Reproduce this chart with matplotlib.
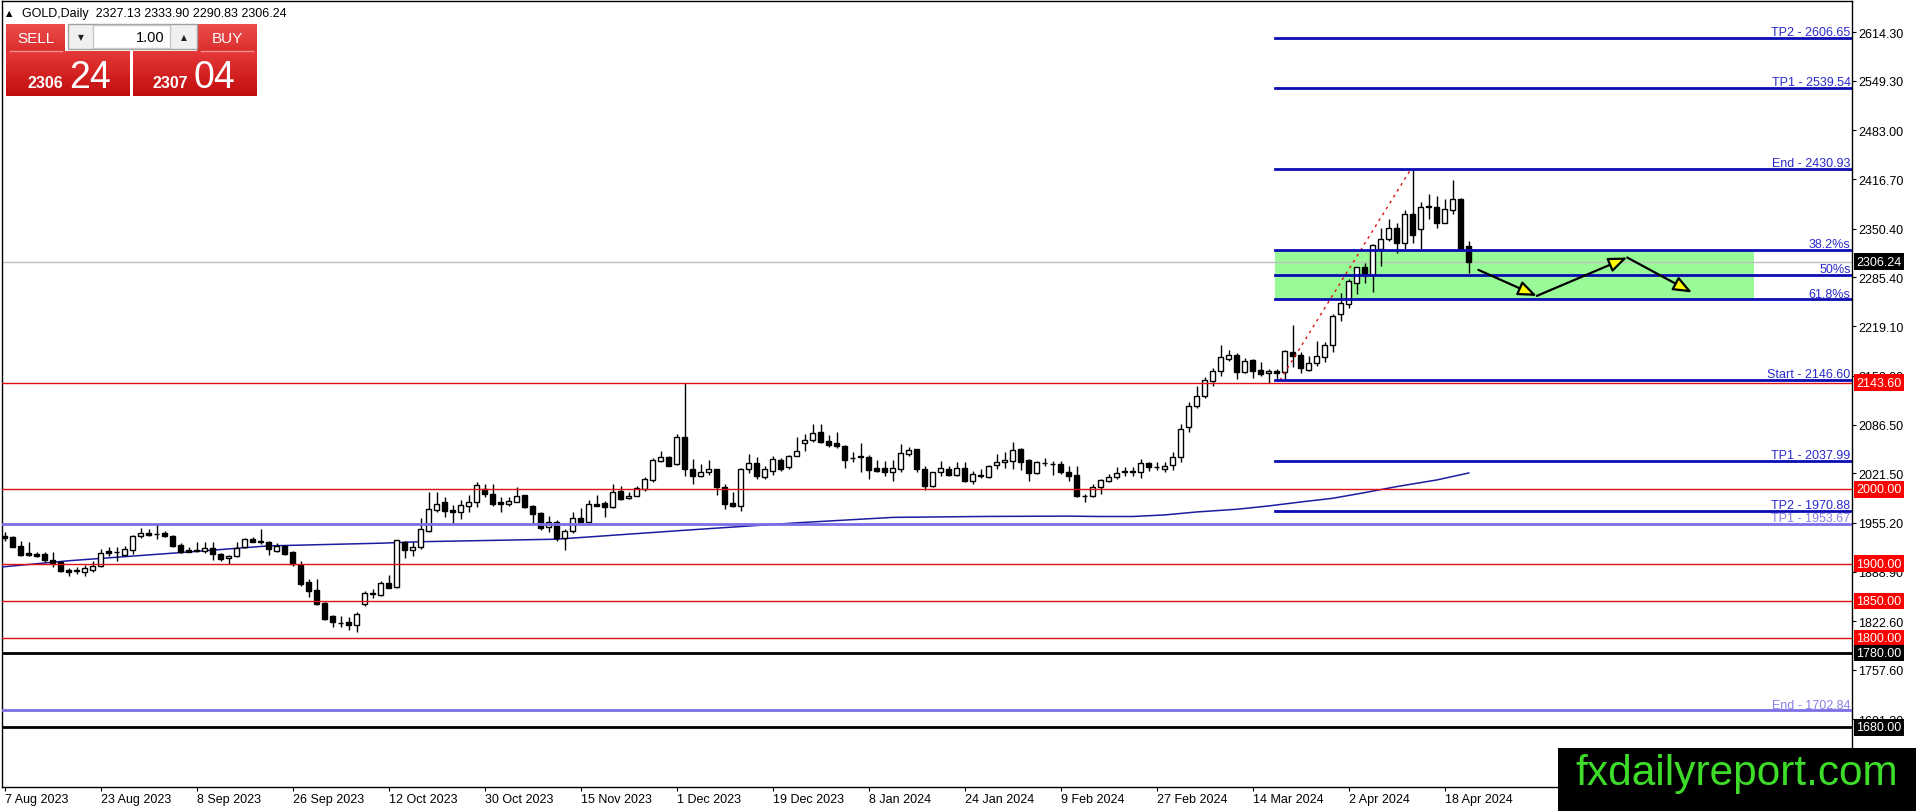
import numpy as np
import matplotlib
matplotlib.use("Agg")
import matplotlib.pyplot as plt
import matplotlib.transforms as mtransforms
from matplotlib.patches import Rectangle, FancyArrowPatch

plt.rcParams['font.family'] = ['Liberation Sans', 'DejaVu Sans']

# GOLD daily candles, 7 Aug 2023 .. 23 Apr 2024
opens = [
    1936.7, 1936.3, 1923.3, 1913.9, 1913.0, 1913.0, 1905.4, 1902.7, 1892.0, 1891.0,
    1888.4, 1892.0, 1896.4, 1916.6, 1916.1, 1912.1, 1918.8, 1936.7, 1941.2, 1940.0,
    1940.8, 1936.7, 1925.6, 1918.8, 1917.9, 1917.5, 1920.6, 1913.0, 1907.2, 1909.9,
    1922.0, 1933.2, 1930.0, 1929.6, 1917.5, 1924.2, 1915.3, 1898.7, 1875.8, 1865.1,
    1847.2, 1829.3, 1820.8, 1821.2, 1818.1, 1845.8, 1859.8, 1858.4, 1873.6, 1868.2,
    1929.6, 1918.8, 1921.9, 1944.3, 1972.5, 1983.3, 1972.1, 1968.9, 1977.9, 1983.3,
    2000.3, 1993.6, 1983.3, 1980.1, 1983.3, 1992.2, 1977.9, 1968.0, 1948.8, 1956.4,
    1934.0, 1944.3, 1960.9, 1956.4, 1980.1, 1981.0, 1975.7, 1997.6, 1987.8, 1991.3,
    2000.3, 2012.8, 2038.4, 2042.8, 2033.9, 2069.7, 2028.0, 2018.2, 2023.6, 2027.2,
    2002.5, 1981.5, 1977.9, 2027.2, 2034.8, 2016.0, 2024.9, 2039.7, 2029.4, 2045.1,
    2062.2, 2066.6, 2076.5, 2065.3, 2062.2, 2057.7, 2041.9, 2043.5, 2043.8, 2028.6,
    2028.1, 2023.6, 2027.2, 2047.4, 2054.1, 2027.2, 2004.8, 2022.8, 2027.2, 2019.2,
    2028.1, 2011.6, 2019.2, 2016.0, 2032.6, 2036.2, 2038.4, 2054.1, 2039.8, 2021.9,
    2035.6, 2034.2, 2033.9, 2023.6, 2019.2, 1990.9, 1990.5, 2002.6, 2010.7, 2016.0,
    2023.3, 2023.9, 2022.8, 2034.8, 2029.9, 2027.2, 2033.1, 2042.9, 2083.2, 2112.3,
    2125.8, 2145.9, 2158.5, 2175.0, 2180.4, 2157.1, 2173.7, 2160.2, 2156.2, 2159.3,
    2157.1, 2184.9, 2180.4, 2160.7, 2169.6, 2177.3, 2193.8, 2235.5, 2248.9, 2278.0,
    2298.2, 2287.9, 2322.8, 2337.1, 2351.9, 2331.7, 2369.8, 2349.7, 2380.5, 2380.1,
    2358.6, 2375.6, 2390.9, 2327.13,
]
highs = [
    1942.1, 1937.6, 1930.9, 1929.6, 1916.1, 1916.1, 1915.3, 1904.1, 1894.2, 1895.1,
    1898.7, 1904.1, 1919.7, 1922.0, 1922.0, 1924.2, 1938.5, 1947.5, 1946.6, 1953.3,
    1944.4, 1938.5, 1927.8, 1922.0, 1929.6, 1929.6, 1928.7, 1914.4, 1911.7, 1929.6,
    1934.1, 1935.4, 1946.6, 1930.9, 1927.8, 1925.6, 1917.5, 1904.1, 1879.4, 1879.4,
    1848.0, 1831.5, 1830.2, 1827.9, 1834.6, 1863.8, 1866.0, 1877.2, 1884.8, 1932.5,
    1930.9, 1929.6, 1960.9, 1995.8, 1995.8, 1989.1, 1978.8, 1985.5, 1992.2, 2009.3,
    2007.0, 2007.0, 1989.1, 1989.1, 2002.5, 1993.0, 1978.5, 1968.9, 1963.6, 1959.1,
    1946.5, 1968.9, 1974.3, 1986.0, 1992.2, 1984.6, 2007.0, 2004.8, 1996.7, 2003.9,
    2016.0, 2041.5, 2051.8, 2045.1, 2074.2, 2143.6, 2040.6, 2033.9, 2039.7, 2028.0,
    2007.0, 1995.8, 2028.5, 2047.3, 2042.8, 2031.6, 2044.2, 2041.5, 2046.0, 2069.7,
    2074.2, 2087.7, 2087.7, 2072.9, 2077.4, 2059.5, 2049.6, 2062.2, 2046.0, 2039.8,
    2038.4, 2039.8, 2060.8, 2056.3, 2054.5, 2031.7, 2023.3, 2038.4, 2031.7, 2036.2,
    2036.2, 2025.0, 2027.2, 2032.6, 2047.4, 2049.6, 2063.9, 2055.0, 2040.7, 2038.4,
    2041.6, 2038.4, 2038.4, 2031.7, 2031.7, 1993.6, 2007.1, 2013.8, 2020.5, 2029.5,
    2029.5, 2029.5, 2040.7, 2037.1, 2037.1, 2037.1, 2050.5, 2087.7, 2117.7, 2139.2,
    2150.4, 2162.5, 2193.8, 2187.5, 2183.1, 2175.9, 2175.0, 2170.5, 2161.6, 2161.6,
    2187.0, 2221.1, 2184.0, 2179.5, 2199.6, 2197.4, 2235.5, 2263.7, 2282.5, 2299.5,
    2304.0, 2329.5, 2351.9, 2363.1, 2357.7, 2375.6, 2430.93, 2386.4, 2396.7, 2394.4,
    2390.9, 2415.9, 2391.5, 2333.90,
]
lows = [
    1930.9, 1922.0, 1910.8, 1910.8, 1908.5, 1901.8, 1895.1, 1889.3, 1883.9, 1886.1,
    1883.0, 1888.4, 1895.1, 1910.8, 1904.1, 1911.7, 1913.0, 1934.5, 1937.6, 1933.2,
    1935.4, 1922.9, 1913.9, 1915.3, 1915.3, 1914.4, 1905.4, 1904.1, 1899.6, 1908.5,
    1921.1, 1928.7, 1926.5, 1911.7, 1916.1, 1912.1, 1897.3, 1870.5, 1855.7, 1844.5,
    1824.8, 1814.5, 1815.4, 1811.4, 1808.7, 1843.6, 1853.4, 1857.0, 1867.3, 1867.5,
    1907.2, 1910.8, 1919.7, 1942.1, 1969.8, 1962.2, 1954.6, 1960.0, 1969.8, 1975.7,
    1989.1, 1977.0, 1968.9, 1977.0, 1982.4, 1975.0, 1954.6, 1945.7, 1943.0, 1930.9,
    1918.8, 1941.2, 1955.5, 1954.6, 1977.0, 1963.1, 1974.3, 1985.5, 1986.9, 1990.4,
    1998.1, 2009.3, 2037.0, 2030.7, 2032.5, 2018.2, 2007.0, 2016.0, 2019.1, 1992.2,
    1973.4, 1975.7, 1971.2, 2021.8, 2013.7, 2013.7, 2019.1, 2024.9, 2028.0, 2044.2,
    2051.9, 2063.1, 2062.2, 2056.3, 2055.0, 2028.1, 2036.2, 2022.8, 2013.8, 2022.8,
    2018.3, 2011.6, 2023.6, 2045.1, 2022.8, 1999.5, 2002.6, 2018.3, 2018.3, 2018.3,
    2009.3, 2007.1, 2014.7, 2014.7, 2027.2, 2028.1, 2027.2, 2026.3, 2011.6, 2020.5,
    2031.7, 2019.2, 2020.5, 2011.6, 1989.2, 1982.5, 1989.2, 1993.6, 2009.3, 2013.8,
    2018.3, 2018.3, 2014.7, 2025.0, 2026.3, 2022.8, 2026.3, 2037.1, 2077.4, 2108.7,
    2122.2, 2138.3, 2151.7, 2172.8, 2148.2, 2156.2, 2149.0, 2152.6, 2142.8, 2145.9,
    2145.9, 2163.8, 2156.2, 2159.3, 2165.2, 2171.4, 2184.9, 2226.5, 2244.4, 2262.3,
    2277.1, 2265.5, 2300.4, 2334.0, 2317.4, 2322.8, 2331.7, 2322.8, 2363.1, 2351.9,
    2357.7, 2369.8, 2323.0, 2290.83,
]
closes = [
    1934.1, 1922.9, 1912.1, 1912.1, 1910.8, 1905.0, 1900.9, 1890.6, 1889.3, 1890.6,
    1894.2, 1896.4, 1914.4, 1914.4, 1915.3, 1919.7, 1936.7, 1941.2, 1938.5, 1939.9,
    1936.7, 1924.2, 1916.1, 1916.1, 1917.5, 1920.6, 1913.0, 1906.3, 1909.9, 1921.1,
    1933.2, 1929.6, 1929.6, 1919.7, 1923.3, 1913.0, 1899.6, 1872.7, 1863.8, 1845.8,
    1825.7, 1821.2, 1820.3, 1817.6, 1832.4, 1860.6, 1859.3, 1874.0, 1867.3, 1931.8,
    1918.4, 1922.0, 1946.5, 1973.4, 1980.1, 1971.2, 1968.9, 1978.8, 1982.4, 2005.7,
    1993.6, 1980.1, 1980.1, 1983.7, 1991.3, 1975.7, 1966.7, 1947.4, 1956.4, 1934.0,
    1944.3, 1960.9, 1956.4, 1980.1, 1977.9, 1976.6, 1996.7, 1986.9, 1990.4, 2001.2,
    2013.7, 2039.7, 2042.8, 2031.6, 2069.7, 2028.0, 2018.2, 2023.6, 2027.2, 2002.5,
    1980.1, 1977.9, 2027.2, 2034.8, 2017.3, 2027.2, 2040.6, 2028.0, 2044.2, 2051.8,
    2066.6, 2075.6, 2063.9, 2059.9, 2057.7, 2039.8, 2041.6, 2043.8, 2026.3, 2025.0,
    2022.8, 2028.6, 2048.7, 2053.2, 2027.2, 2003.9, 2022.8, 2028.1, 2019.2, 2028.1,
    2011.6, 2020.5, 2017.4, 2030.8, 2036.2, 2039.8, 2053.2, 2037.1, 2021.9, 2036.2,
    2035.3, 2033.9, 2023.6, 2018.3, 1990.5, 1990.5, 2002.6, 2012.4, 2016.0, 2021.9,
    2023.6, 2023.6, 2034.8, 2029.5, 2029.5, 2031.7, 2042.9, 2081.0, 2112.3, 2125.8,
    2146.8, 2158.5, 2177.3, 2180.8, 2157.1, 2172.8, 2159.3, 2154.9, 2159.3, 2156.2,
    2186.2, 2178.6, 2162.5, 2169.6, 2178.6, 2193.8, 2233.2, 2250.2, 2279.4, 2298.2,
    2287.9, 2328.2, 2337.1, 2351.0, 2331.7, 2369.8, 2341.6, 2380.1, 2380.1, 2358.6,
    2376.5, 2390.0, 2323.7, 2306.24,
]

date_labels = ['7 Aug 2023', '23 Aug 2023', '8 Sep 2023', '26 Sep 2023', '12 Oct 2023',
               '30 Oct 2023', '15 Nov 2023', '1 Dec 2023', '19 Dec 2023', '8 Jan 2024',
               '24 Jan 2024', '9 Feb 2024', '27 Feb 2024', '14 Mar 2024', '2 Apr 2024',
               '18 Apr 2024']
label_bars = [0, 12, 24, 36, 48, 60, 72, 84, 96, 108, 120, 132, 144, 156, 168, 180]

price_ticks = [2614.30, 2549.30, 2483.00, 2416.70, 2350.40, 2285.40, 2219.10, 2152.80,
               2086.50, 2021.50, 1955.20, 1888.90, 1822.60, 1757.60, 1691.30]

# moving average
ma_bars = [-1, 8, 22, 33, 47, 52, 69, 85, 99, 111, 123, 133, 137, 141, 145, 149,
           154, 158, 162, 166, 170, 174, 179, 183]
ma_values = [1895.0, 1904.0, 1915.0, 1924.0, 1927.6, 1929.6, 1933.0, 1945.0, 1955.0,
             1962.3, 1963.6, 1964.0, 1963.5, 1963.5, 1965.6, 1969.6, 1973.2, 1977.7,
             1983.0, 1988.0, 1995.6, 2003.7, 2012.6, 2022.0]

red_levels = [2143.60, 2000.00, 1900.00, 1850.00, 1800.00]
black_levels = [1780.00, 1680.00]
fib_levels = [2606.65, 2539.54, 2430.93, 2322.32, 2288.77, 2255.21, 2146.60, 2037.99, 1970.88]
fib_names = ['TP2 - 2606.65', 'TP1 - 2539.54', 'End - 2430.93', '38.2%s', '50%s', '61.8%s',
             'Start - 2146.60', 'TP1 - 2037.99', 'TP2 - 1970.88']
old_fib_levels = [1953.67, 1702.84]
old_fib_names = ['TP1 - 1953.67', 'End - 1702.84']
last_price = 2306.24
header_ohlc = '2327.13 2333.90 2290.83 2306.24'

fib_start_bar = 158.8
zone_end_bar = 218.7
zone_top, zone_bottom = 2322.32, 2255.21
trend_bars = [159.4, 175.8]
trend_prices = [2146.60, 2430.93]
path_bars = [184.2, 191.5, 202.8, 210.9]
path_prices = [2295.0, 2260.0, 2311.6, 2264.6]

W, H = 1916, 812
fig = plt.figure(figsize=(W / 100, H / 100), dpi=100)
fig.patch.set_facecolor('white')

# chart area: pixels x 2..1852, y 2..788
ax = fig.add_axes([2 / W, (H - 788) / H, 1850 / W, 786 / H])
ax.set_xlim(-0.33, 230.9)
ax.set_ylim(1599.9, 2656.4)

x = np.arange(len(opens))
o = np.array(opens)
c = np.array(closes)
up = c >= o
body_lo = np.minimum(o, c)
body_h = np.maximum(np.abs(c - o), 0.7)

ax.vlines(x, lows, highs, color='black', lw=1, zorder=3)
ax.bar(x[up], body_h[up], bottom=body_lo[up], width=0.62, facecolor='white',
       edgecolor='black', lw=1, zorder=3.2)
ax.bar(x[~up], body_h[~up], bottom=body_lo[~up], width=0.62, facecolor='black',
       edgecolor='black', lw=1, zorder=3.2)

# moving average
ax.plot(ma_bars, ma_values, color='#1c1ca0', lw=1.1, zorder=2.8)

# fib zone
ax.add_patch(Rectangle((fib_start_bar, zone_bottom), zone_end_bar - fib_start_bar,
                       zone_top - zone_bottom, facecolor='#98fb98', edgecolor='none', zorder=1))

trans = mtransforms.blended_transform_factory(ax.transAxes, ax.transData)

# horizontal levels
ax.axhline(last_price, color='#c0c0c0', lw=1, zorder=2)
for lv in red_levels:
    ax.axhline(lv, color='#e01010', lw=1, zorder=4)
for lv in black_levels:
    ax.axhline(lv, color='black', lw=2, zorder=4)
for lv, name in zip(old_fib_levels, old_fib_names):
    ax.axhline(lv, color='#7b6ee6', lw=2, zorder=4)
    ax.annotate(name, xy=(1, lv), xycoords=trans, xytext=(-1, 2), textcoords='offset points',
                ha='right', va='baseline', fontsize=9, color='#8a80e6', zorder=6)
for lv, name in zip(fib_levels, fib_names):
    ax.plot([fib_start_bar, 230.9], [lv, lv], color='#0c0cb4', lw=2, zorder=4.5)
    ax.annotate(name, xy=(1, lv), xycoords=trans, xytext=(-1, 2), textcoords='offset points',
                ha='right', va='baseline', fontsize=9, color='#2a2acc', zorder=6)

# fib baseline (dotted)
ax.plot(trend_bars, trend_prices, color='#e01010', lw=1, ls=(0, (2, 3)), zorder=4)

# projected path
for i in range(len(path_bars) - 1):
    ax.add_patch(FancyArrowPatch((path_bars[i], path_prices[i]),
                                 (path_bars[i + 1], path_prices[i + 1]),
                                 arrowstyle='-|>,head_length=0.8,head_width=0.32',
                                 mutation_scale=14, facecolor='#ffff00', edgecolor='black',
                                 lw=1.6, shrinkA=0, shrinkB=0, zorder=7))

# price boxes on the right scale
def scale_box(price, fc):
    ax.text(1.0024, price, f'{price:.2f}', transform=trans, ha='left', va='center',
            fontsize=9, color='white', clip_on=False, zorder=10,
            bbox=dict(boxstyle='square,pad=0.18', fc=fc, ec='none'))

for lv in red_levels:
    scale_box(lv, '#ff0000')
for lv in black_levels:
    scale_box(lv, 'black')
scale_box(last_price, 'black')

ax.yaxis.tick_right()
ax.set_yticks(price_ticks)
ax.set_yticklabels([f'{p:.2f}' for p in price_ticks])
ax.tick_params(axis='y', direction='out', length=3, width=0.8, pad=1.5, labelsize=9)
ax.set_xticks(label_bars)
ax.set_xticklabels(date_labels, ha='left')
ax.tick_params(axis='x', direction='out', length=3, width=0.8, pad=1.5, labelsize=9)
for s in ax.spines.values():
    s.set_color('black')
    s.set_linewidth(1)

# overlay in pixel coordinates for the trade panel and watermark
ov = fig.add_axes([0, 0, 1, 1], zorder=10)
ov.axis('off')


def grad_box(x0, y0, x1, y1, top, bottom):
    t = np.linspace(0, 1, 40)[:, None, None]
    img = (1 - t) * np.array(top)[None, None, :] + t * np.array(bottom)[None, None, :]
    img = np.repeat(img, 2, axis=1)
    ov.imshow(img, extent=(x0, x1, y1, y0), aspect='auto', interpolation='bilinear', zorder=1)


red_top = (0.90, 0.22, 0.22)
red_bot = (0.76, 0.05, 0.05)
grad_box(6, 25, 65, 52, (0.92, 0.30, 0.30), (0.86, 0.18, 0.18))
grad_box(197, 25, 257, 52, (0.92, 0.30, 0.30), (0.86, 0.18, 0.18))
grad_box(6, 52, 130, 97, red_top, red_bot)
grad_box(133, 52, 257, 97, red_top, red_bot)
ov.plot([10, 62], [52, 52], color='#f29090', lw=1, zorder=2)
ov.plot([201, 253], [52, 52], color='#f29090', lw=1, zorder=2)

ov.add_patch(Rectangle((68, 25), 129, 25, facecolor='#f0f0f0', edgecolor='#a0a0a0', lw=1, zorder=2))
ov.add_patch(Rectangle((93, 26), 77, 23, facecolor='white', edgecolor='#c8c8c8', lw=1, zorder=2))
ov.text(80.5, 38, '▼', fontsize=5.5, ha='center', va='center', color='#202020', zorder=3,
        family=['DejaVu Sans'])
ov.text(183.5, 38, '▲', fontsize=5.5, ha='center', va='center', color='#202020', zorder=3,
        family=['DejaVu Sans'])
ov.text(165, 38, '1.00', fontsize=10.5, ha='right', va='center', color='black', zorder=3)

ov.text(35.5, 39, 'SELL', fontsize=11, ha='center', va='center', color='white', zorder=3)
ov.text(227, 39, 'BUY', fontsize=11, ha='center', va='center', color='white', zorder=3)
ov.text(28, 88, '2306', fontsize=11.5, fontweight='bold', ha='left', va='baseline',
        color='white', zorder=3)
ov.text(69, 88.5, '24', fontsize=27, ha='left', va='baseline', color='white', zorder=3)
ov.text(153, 88, '2307', fontsize=11.5, fontweight='bold', ha='left', va='baseline',
        color='white', zorder=3)
ov.text(194, 88.5, '04', fontsize=27, ha='left', va='baseline', color='white', zorder=3)

ov.text(6, 13.5, '▲', fontsize=6, ha='left', va='center', color='black', family=['DejaVu Sans'])
ov.text(22, 13.5, 'GOLD,Daily  ' + header_ohlc, fontsize=9, ha='left', va='center', color='black')

ov.add_patch(Rectangle((1558, 749), W - 1558, H - 749, facecolor='black', edgecolor='none', zorder=4))
ov.text(1737, 785, 'fxdailyreport.com', fontsize=30.5, ha='center', va='baseline',
        color='#3cdc28', zorder=5)

ov.set_xlim(0, W)
ov.set_ylim(H, 0)

fig.savefig('out.png', dpi=100, facecolor='white')
